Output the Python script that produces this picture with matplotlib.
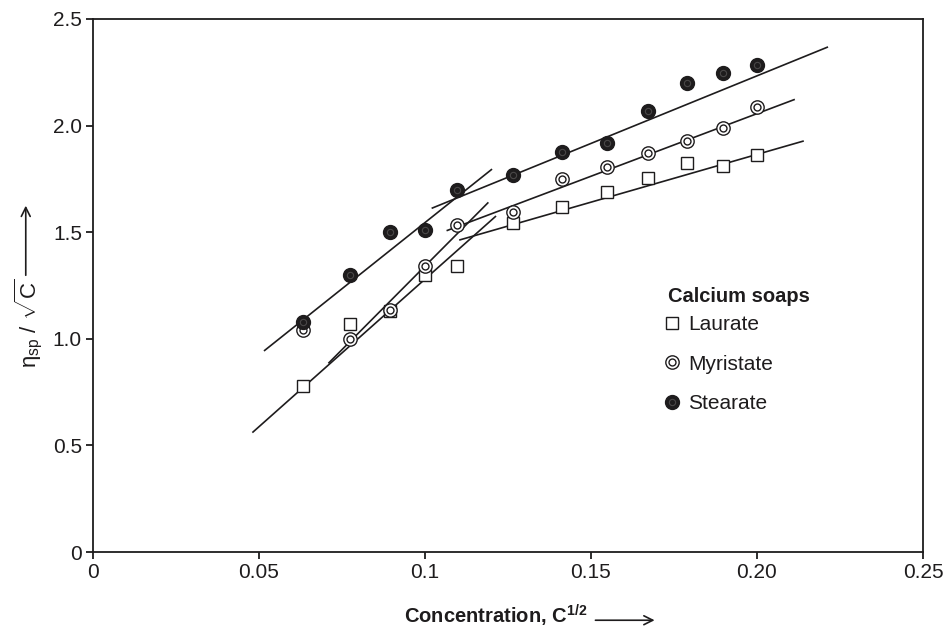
import matplotlib
matplotlib.use("Agg")
import matplotlib.pyplot as plt
from matplotlib.lines import Line2D
from matplotlib.legend_handler import HandlerTuple

plt.rcParams['font.family'] = ['Liberation Sans', 'DejaVu Sans']
plt.rcParams['mathtext.fontset'] = 'custom'
plt.rcParams['mathtext.rm'] = 'Liberation Sans'
plt.rcParams['mathtext.it'] = 'Liberation Sans:italic'
plt.rcParams['mathtext.bf'] = 'Liberation Sans:bold'

# square root of concentration (x axis)
conc_sqrt = [0.0632, 0.0775, 0.0894, 0.1000, 0.1095, 0.1265,
             0.1414, 0.1549, 0.1673, 0.1789, 0.1897, 0.2000]

# reduced viscosity values, eta_sp / sqrt(C)
laurate = [0.78, 1.07, 1.13, 1.30, 1.34, 1.545, 1.62, 1.69, 1.755, 1.825, 1.81, 1.86]
myristate = [1.04, 1.00, 1.135, 1.34, 1.535, 1.595, 1.75, 1.805, 1.87, 1.93, 1.99, 2.085]
stearate = [1.08, 1.30, 1.50, 1.51, 1.70, 1.77, 1.875, 1.92, 2.07, 2.20, 2.245, 2.285]

# hand-drawn straight lines: (x start, x end), (y start, y end) for both branches
laurate_fit_x = [(0.048, 0.1214), (0.1103, 0.2141)]
laurate_fit_y = [(0.56, 1.576), (1.463, 1.928)]
myristate_fit_x = [(0.0709, 0.1191), (0.1065, 0.2114)]
myristate_fit_y = [(0.885, 1.640), (1.507, 2.123)]
stearate_fit_x = [(0.0515, 0.1202), (0.102, 0.2214)]
stearate_fit_y = [(0.943, 1.796), (1.612, 2.369)]

x_ticks = [0, 0.05, 0.1, 0.15, 0.20, 0.25]
x_ticklabels = ['0', '0.05', '0.1', '0.15', '0.20', '0.25']
y_ticks = [0, 0.5, 1.0, 1.5, 2.0, 2.5]
y_ticklabels = ['0', '0.5', '1.0', '1.5', '2.0', '2.5']

ink = '#1e1c1d'

fig = plt.figure(figsize=(9.45, 6.29), dpi=100)
ax = fig.add_axes([0.0984, 0.1224, 0.8783, 0.8474])

# fitted lines
for fx, fy in [(laurate_fit_x, laurate_fit_y),
               (myristate_fit_x, myristate_fit_y),
               (stearate_fit_x, stearate_fit_y)]:
    for xs, ys in zip(fx, fy):
        ax.plot(xs, ys, color=ink, lw=1.2, zorder=2, solid_capstyle='butt')

# markers
ax.plot(conc_sqrt, laurate, ls='none', marker='s', ms=8.3, mfc='white',
        mec=ink, mew=1.0, zorder=3)
ax.plot(conc_sqrt, myristate, ls='none', marker='o', ms=9.6, mfc='white',
        mec=ink, mew=1.0, zorder=4)
ax.plot(conc_sqrt, myristate, ls='none', marker='o', ms=5.0, mfc='white',
        mec=ink, mew=1.0, zorder=4)
ax.plot(conc_sqrt, stearate, ls='none', marker='o', ms=10, mfc=ink,
        mec=ink, mew=1.0, zorder=5)
ax.plot(conc_sqrt, stearate, ls='none', marker='o', ms=4.5, mfc=ink,
        mec='#4a4848', mew=0.8, zorder=5)

ax.set_xlim(0, 0.25)
ax.set_ylim(0, 2.5)
ax.set_xticks(x_ticks)
ax.set_xticklabels(x_ticklabels)
ax.set_yticks(y_ticks)
ax.set_yticklabels(y_ticklabels)
ax.tick_params(direction='out', length=5, width=1.3, labelsize=15,
               colors=ink, pad=3)
for sp in ax.spines.values():
    sp.set_linewidth(1.3)
    sp.set_color(ink)

# axis labels
ax.set_xlabel(r'Concentration, C$^{\mathbf{1/2}}$', fontsize=14.5,
              fontweight='bold', color=ink)
ax.xaxis.set_label_coords(0.485, -0.095)
ax.annotate('', xy=(0.68, -0.128), xytext=(0.602, -0.128),
            xycoords='axes fraction',
            arrowprops=dict(arrowstyle='->', color=ink, lw=1.2,
                            mutation_scale=16), annotation_clip=False)

ax.set_ylabel(r'η$_{\mathrm{sp}}$ / $\sqrt{\mathrm{C}}$', fontsize=16,
              color=ink)
ax.yaxis.set_label_coords(-0.058, 0.43)
ax.annotate('', xy=(-0.081, 0.655), xytext=(-0.081, 0.514),
            xycoords='axes fraction',
            arrowprops=dict(arrowstyle='->', color=ink, lw=1.2,
                            mutation_scale=16), annotation_clip=False)

# legend
h_laurate = Line2D([], [], ls='none', marker='s', ms=8.3, mfc='white',
                   mec=ink, mew=1.0)
h_myr = (Line2D([], [], ls='none', marker='o', ms=9.6, mfc='white', mec=ink, mew=1.0),
         Line2D([], [], ls='none', marker='o', ms=5.0, mfc='white', mec=ink, mew=1.0))
h_ste = (Line2D([], [], ls='none', marker='o', ms=10, mfc=ink, mec=ink, mew=1.0),
         Line2D([], [], ls='none', marker='o', ms=4.5, mfc=ink, mec='#4a4848', mew=0.8))
leg = ax.legend([h_laurate, h_myr, h_ste], ['Laurate', 'Myristate', 'Stearate'],
                handler_map={tuple: HandlerTuple(ndivide=1, pad=0)},
                loc='upper left', bbox_to_anchor=(0.688, 0.445),
                frameon=False, fontsize=15, handlelength=0.8,
                handletextpad=0.35, labelspacing=1.0, borderpad=0,
                borderaxespad=0)
for t in leg.get_texts():
    t.set_color(ink)
ax.text(0.6928, 0.4803, 'Calcium soaps', transform=ax.transAxes,
        fontsize=14.5, fontweight='bold', color=ink, ha='left', va='center')

plt.savefig('out.png', dpi=100)
plt.close()
